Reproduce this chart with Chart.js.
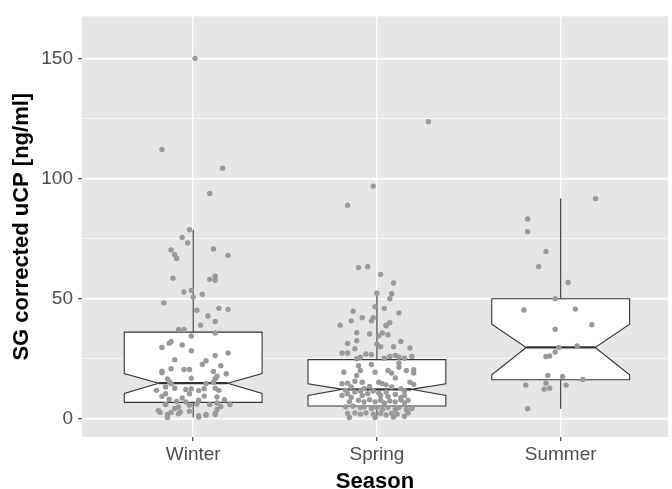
<!DOCTYPE html>
<html>
<head>
<meta charset="utf-8">
<script src="https://cdn.jsdelivr.net/npm/chart.js@4.4.0/dist/chart.umd.min.js"></script>
<style>
  html, body { margin: 0; padding: 0; background: #fff; }
</style>
</head>
<body>
<canvas id="chart" width="672" height="489"></canvas>
<script>
const seasons = ['Winter', 'Spring', 'Summer'];

// notched box summaries, one value per season
const q1 = [6.8, 5.3, 16.2];
const notchLow = [10.5, 9.7, 18.3];
const median = [14.8, 12.2, 29.7];
const notchHigh = [18.8, 14.5, 39.4];
const q3 = [36.1, 24.6, 50.0];
const whiskerLow = [0.5, 0.4, 4.1];
const whiskerHigh = [78.8, 52.3, 91.8];

const yMajor = [0, 50, 100, 150];
const yMinor = [25, 75, 125];

// jittered points: [offset from category centre, value]
const winterPoints = [
    [0.01, 150.3], [-0.17, 112.3], [0.16, 104.5], [0.09, 93.9], [-0.02, 78.8], [-0.06, 75.6], [-0.03, 73.3],
    [-0.12, 70.4], [0.11, 70.8], [0.19, 68.1], [-0.10, 68.4], [-0.09, 66.8], [-0.11, 58.6], [0.09, 58.1], [0.12, 59.4], [0.12, 57.7],
    [-0.01, 53.5], [-0.05, 52.8], [0.05, 51.9], [0.00, 50.7], [-0.16, 48.3], [0.14, 46.0], [0.19, 45.6], [0.02, 45.2], [0.08, 42.8],
    [0.12, 40.5], [0.04, 39.0], [-0.08, 37.2], [-0.05, 37.2], [0.12, 35.7], [-0.01, 34.5], [-0.12, 32.1], [-0.13, 31.5], [-0.17, 29.7],
    [-0.06, 30.7], [-0.01, 28.3], [0.19, 27.4], [0.12, 26.3], [0.07, 24.2], [0.05, 22.7], [-0.10, 24.6], [0.15, 22.1], [-0.12, 20.8],
    [-0.05, 20.5], [-0.02, 20.5], [-0.17, 19.1], [-0.17, 19.8], [0.11, 19.7], [0.18, 18.7], [-0.01, 16.9], [0.13, 17.7], [0.12, 16.6],
    [-0.14, 16.6], [-0.13, 15.5], [-0.12, 14.6], [0.07, 14.6], [0.11, 15.2], [-0.20, 11.8], [-0.15, 13.2], [-0.10, 12.7], [-0.04, 12.2],
    [-0.01, 12.5], [0.03, 11.7], [0.06, 12.5], [0.12, 12.7], [0.14, 11.8], [-0.15, 10.4], [-0.17, 9.3], [-0.02, 10.4], [0.06, 9.4],
    [0.13, 9.0], [0.17, 7.9], [-0.06, 8.6], [-0.09, 7.2], [-0.13, 8.1], [-0.15, 5.9], [-0.04, 7.0], [-0.02, 5.6], [0.02, 6.1], [0.03, 7.7],
    [0.09, 5.9], [0.13, 6.5], [0.20, 5.9], [-0.08, 4.9], [-0.10, 4.2], [-0.18, 2.6], [-0.19, 3.4], [-0.14, 1.7], [-0.12, 2.6], [-0.08, 2.0],
    [-0.07, 2.8], [-0.02, 3.1], [0.03, 1.2], [0.07, 1.7], [0.12, 2.2], [0.13, 3.8], [0.15, 5.0], [-0.14, 0.5], [0.03, 0.7], [0.07, 1.4], [0.12, 1.7],
];
const springPoints = [
    [0.28, 123.9], [-0.02, 97.0], [-0.16, 89.0], [-0.10, 63.0], [-0.05, 63.4], [0.02, 60.2], [0.09, 56.6], [0.00, 52.3], [0.08, 52.1],
    [0.07, 50.0], [-0.01, 46.7], [0.04, 46.0], [-0.13, 44.8], [0.12, 44.1], [-0.08, 42.1], [-0.02, 42.1], [-0.03, 40.8], [-0.14, 40.8],
    [0.07, 40.0], [-0.20, 39.0], [0.05, 39.0], [0.05, 38.7], [-0.11, 35.8], [-0.04, 35.3], [0.01, 34.6], [0.03, 35.7], [0.06, 35.0],
    [-0.16, 31.4], [-0.11, 32.5], [0.00, 31.1], [0.09, 30.0], [0.13, 32.2], [0.18, 29.5], [-0.12, 29.2], [0.02, 30.0], [-0.19, 27.4],
    [-0.16, 27.4], [-0.06, 27.0], [-0.03, 26.7], [-0.11, 25.0], [-0.09, 25.6], [0.04, 25.2], [0.07, 25.9], [0.10, 26.4], [0.12, 25.6],
    [0.15, 25.2], [0.19, 25.9], [-0.18, 19.4], [-0.10, 22.1], [-0.09, 20.1], [-0.11, 18.0], [-0.03, 22.6], [-0.01, 19.4], [0.06, 20.1],
    [0.08, 19.0], [0.12, 21.4], [0.12, 23.1], [0.16, 20.1], [0.20, 20.4], [0.20, 19.0], [0.10, 17.0], [-0.19, 14.6], [-0.16, 14.8],
    [-0.12, 15.6], [-0.08, 15.2], [0.01, 15.2], [0.03, 14.6], [0.05, 14.1], [0.08, 13.2], [0.18, 15.2], [0.20, 14.3], [-0.14, 13.2],
    [-0.04, 13.4], [-0.07, 12.5], [0.13, 12.5], [0.15, 11.5], [-0.17, 11.8], [-0.16, 10.4], [-0.12, 11.1], [-0.09, 11.5], [-0.08, 9.7],
    [-0.05, 10.4], [-0.02, 11.5], [0.01, 10.7], [0.02, 9.7], [0.05, 11.1], [0.06, 9.3], [0.10, 10.1], [0.15, 9.7], [0.13, 8.8],
    [-0.19, 9.7], [-0.14, 8.8], [-0.15, 7.0], [-0.10, 7.7], [-0.07, 7.0], [-0.04, 7.9], [-0.01, 7.0], [0.02, 7.7], [0.04, 6.5],
    [0.07, 7.4], [0.10, 7.0], [0.13, 7.9], [0.15, 6.5], [0.17, 7.7], [-0.17, 4.9], [-0.13, 5.2], [-0.09, 4.6], [-0.07, 4.9],
    [-0.03, 4.2], [0.00, 4.6], [0.03, 3.8], [0.06, 4.6], [0.10, 3.8], [0.12, 4.6], [0.16, 3.8], [0.19, 4.2], [-0.16, 2.2],
    [-0.12, 2.4], [-0.09, 1.9], [-0.06, 2.4], [-0.02, 1.9], [0.02, 2.2], [0.05, 1.5], [0.08, 2.2], [0.11, 1.9], [0.15, 1.0],
    [0.17, 2.4], [-0.15, 0.5], [-0.01, 0.5], [0.09, 0.7],
];
const summerPoints = [
    [0.19, 91.8], [-0.18, 83.3], [-0.18, 78.0], [-0.08, 69.7], [-0.12, 63.4], [0.04, 56.8], [-0.03, 50.0], [-0.20, 45.3],
    [0.08, 45.7], [0.17, 39.2], [-0.03, 37.3], [-0.01, 29.7], [0.09, 30.3], [-0.03, 27.8], [-0.08, 25.9], [-0.06, 26.1],
    [-0.07, 18.0], [0.01, 17.6], [0.12, 16.3], [-0.19, 14.0], [-0.08, 14.8], [0.03, 14.0], [-0.09, 12.3], [-0.06, 12.7], [-0.18, 4.1],
];

const font = 'Liberation Sans, Arial, sans-serif';
const panelGrey = '#e6e6e6';
const boxHalf = 0.375;

const toXY = (points, cat) => points.map(([dx, v]) => ({ x: cat + dx, y: v }));

const notchedBoxes = {
    id: 'notchedBoxes',
    beforeDraw(chart) {
        const { ctx, chartArea: a } = chart;
        ctx.save();
        ctx.fillStyle = panelGrey;
        ctx.fillRect(a.left, a.top, a.right - a.left, a.bottom - a.top);
        ctx.restore();
    },
    beforeDatasetsDraw(chart) {
        const { ctx, scales: { x, y } } = chart;
        ctx.save();
        ctx.strokeStyle = '#333';
        seasons.forEach((s, i) => {
            const c = i + 1;
            const C = x.getPixelForValue(c);
            const L = x.getPixelForValue(c - boxHalf);
            const R = x.getPixelForValue(c + boxHalf);
            const NL = x.getPixelForValue(c - boxHalf / 2);
            const NR = x.getPixelForValue(c + boxHalf / 2);

            ctx.lineWidth = 1.1;
            ctx.beginPath();
            ctx.moveTo(C, y.getPixelForValue(q3[i]));
            ctx.lineTo(C, y.getPixelForValue(whiskerHigh[i]));
            ctx.moveTo(C, y.getPixelForValue(q1[i]));
            ctx.lineTo(C, y.getPixelForValue(whiskerLow[i]));
            ctx.stroke();

            ctx.beginPath();
            ctx.moveTo(L, y.getPixelForValue(q3[i]));
            ctx.lineTo(L, y.getPixelForValue(notchHigh[i]));
            ctx.lineTo(NL, y.getPixelForValue(median[i]));
            ctx.lineTo(L, y.getPixelForValue(notchLow[i]));
            ctx.lineTo(L, y.getPixelForValue(q1[i]));
            ctx.lineTo(R, y.getPixelForValue(q1[i]));
            ctx.lineTo(R, y.getPixelForValue(notchLow[i]));
            ctx.lineTo(NR, y.getPixelForValue(median[i]));
            ctx.lineTo(R, y.getPixelForValue(notchHigh[i]));
            ctx.lineTo(R, y.getPixelForValue(q3[i]));
            ctx.closePath();
            ctx.fillStyle = '#fff';
            ctx.fill();
            ctx.stroke();

            ctx.lineWidth = 2.2;
            ctx.beginPath();
            ctx.moveTo(NL, y.getPixelForValue(median[i]));
            ctx.lineTo(NR, y.getPixelForValue(median[i]));
            ctx.stroke();
        });
        ctx.restore();
    },
};

const isMajor = (ctx) => ctx.tick && yMajor.includes(ctx.tick.value);

new Chart(document.getElementById('chart'), {
    type: 'scatter',
    data: {
        datasets: [winterPoints, springPoints, summerPoints].map((pts, i) => ({
            label: seasons[i],
            data: toXY(pts, i + 1),
            backgroundColor: '#999',
            borderWidth: 0,
            pointRadius: 2.7,
        })),
    },
    options: {
        responsive: false,
        animation: false,
        events: [],
        layout: { padding: 0 },
        plugins: { legend: { display: false }, tooltip: { enabled: false } },
        scales: {
            x: {
                type: 'linear',
                min: 0.395,
                max: 3.584,
                afterBuildTicks: (scale) => { scale.ticks = seasons.map((s, i) => ({ value: i + 1 })); },
                afterFit: (scale) => { scale.height = 52; },
                border: { display: false },
                grid: { color: '#fff', lineWidth: 1.4, tickColor: '#333', tickLength: 4, tickWidth: 1.1 },
                ticks: {
                    autoSkip: false,
                    maxRotation: 0,
                    padding: 2,
                    color: '#4d4d4d',
                    font: { family: font, size: 19 },
                    callback: (v) => seasons[v - 1],
                },
                title: {
                    display: true,
                    text: 'Season',
                    color: '#000',
                    font: { family: font, size: 22, weight: 'bold' },
                    padding: { top: 0, bottom: -6 },
                },
            },
            y: {
                min: -7.66,
                max: 167.8,
                afterBuildTicks: (scale) => {
                    scale.ticks = [...yMajor, ...yMinor].sort((a, b) => a - b).map((v) => ({ value: v }));
                },
                afterFit: (scale) => { scale.width = 82; },
                border: { display: false },
                grid: {
                    color: '#fff',
                    lineWidth: (ctx) => (isMajor(ctx) ? 1.4 : 0.7),
                    tickColor: (ctx) => (isMajor(ctx) ? '#333' : 'rgba(0,0,0,0)'),
                    tickLength: 4,
                    tickWidth: 1.1,
                },
                ticks: {
                    autoSkip: false,
                    padding: 5,
                    color: '#4d4d4d',
                    font: { family: font, size: 19 },
                    callback: (v) => (yMajor.includes(v) ? String(v) : ''),
                },
                title: {
                    display: true,
                    text: 'SG corrected uCP [ng/ml]',
                    color: '#000',
                    font: { family: font, size: 22, weight: 'bold' },
                    padding: { top: 9, bottom: 0 },
                },
            },
        },
    },
    plugins: [notchedBoxes],
});
</script>
</body>
</html>
